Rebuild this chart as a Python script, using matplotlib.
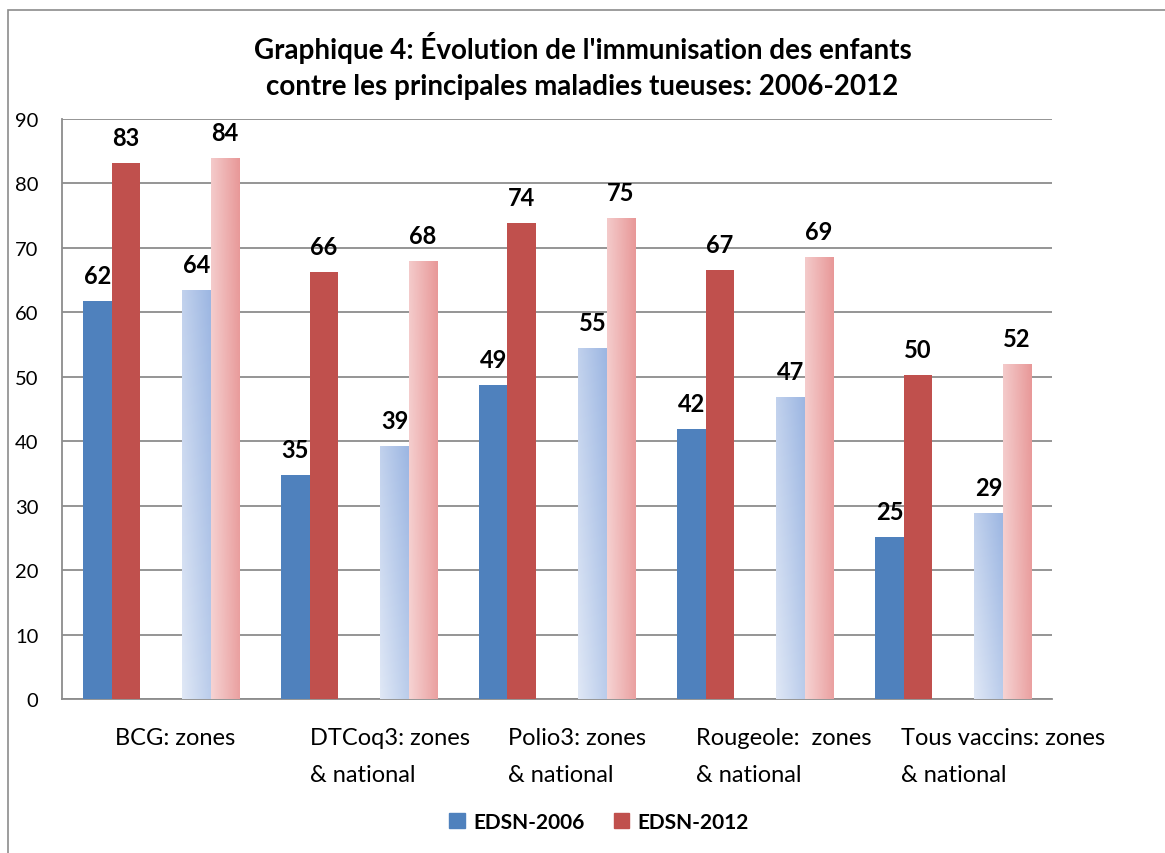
import matplotlib.pyplot as plt
import matplotlib.patches as mpatches
import matplotlib.transforms as mtrans
import numpy as np

plt.rcParams['font.family'] = ['Lato', 'DejaVu Sans']

# ---------------- données ----------------
labels_cat = ['BCG: zones', 'DTCoq3: zones\n& national', 'Polio3: zones\n& national',
              'Rougeole:  zones\n& national', 'Tous vaccins: zones\n& national']
# 10 emplacements : zones puis national pour chaque vaccin
edsn_2006 = [61.7, 63.5, 34.7, 39.3, 48.7, 54.5, 41.9, 46.9, 25.1, 28.9]
edsn_2012 = [83.1, 83.9, 66.2, 68.0, 73.9, 74.6, 66.6, 68.6, 50.3, 52.0]
etiq_2006 = [62, 64, 35, 39, 49, 55, 42, 47, 25, 29]
etiq_2012 = [83, 84, 66, 68, 74, 75, 67, 69, 50, 52]
national = [False, True] * 5

bleu = '#4f81bd'
rouge = '#c0504d'
gris = '#8c8c8c'

fig = plt.figure(figsize=(11.65, 8.54), dpi=100)
ax = fig.add_axes([62/1165, 1-700/854, 990/1165, 580/854])

x = np.arange(len(edsn_2006))
w = 0.283

def degrade(bar, c0, c1, diag):
    # dégradé clair -> foncé (gauche/bas vers droite/haut)
    x0, y0 = bar.get_x(), bar.get_y()
    bw, bh = bar.get_width(), bar.get_height()
    nx, ny = 40, 200
    gx = np.linspace(0, 1, nx)[None, :]
    gy = np.linspace(1, 0, ny)[:, None]
    t = np.clip((1-diag)*gx + diag*gy, 0, 1)
    c0 = np.array(plt.matplotlib.colors.to_rgb(c0))
    c1 = np.array(plt.matplotlib.colors.to_rgb(c1))
    img = c0[None, None, :]*(1-t[..., None]) + c1[None, None, :]*t[..., None]
    im = ax.imshow(img, extent=[x0, x0+bw, y0, y0+bh], aspect='auto', zorder=3,
                   interpolation='bilinear')
    im.set_clip_path(bar)

b1 = ax.bar(x - w/2, edsn_2006, w, color=bleu, zorder=3, label='EDSN-2006')
b2 = ax.bar(x + w/2, edsn_2012, w, color=rouge, zorder=3, label='EDSN-2012')

for i in range(len(x)):
    if national[i]:
        b1[i].set_facecolor('none')
        b1[i].set_edgecolor('none')
        b2[i].set_facecolor('none')
        b2[i].set_edgecolor('none')
        degrade(b1[i], '#e0e8f6', '#9cb6e2', 0.45)
        degrade(b2[i], '#f6d3d3', '#e89898', 0.15)

for i in range(len(x)):
    ax.annotate(str(etiq_2006[i]), (x[i] - w/2, edsn_2006[i]), xytext=(0, 13),
                textcoords='offset points', ha='center', va='baseline',
                fontsize=17, fontweight='bold')
    ax.annotate(str(etiq_2012[i]), (x[i] + w/2, edsn_2012[i]), xytext=(0, 13),
                textcoords='offset points', ha='center', va='baseline',
                fontsize=17, fontweight='bold')

ax.set_xlim(-0.5, 9.5)
ax.set_ylim(0, 90)
ax.set_yticks(range(0, 91, 10))
ax.set_xticks([])
ax.tick_params(axis='y', length=0, pad=17, labelsize=14.5)
ax.yaxis.grid(True, color=gris, linewidth=1.3)
ax.set_axisbelow(True)
for s in ['top', 'right']:
    ax.spines[s].set_visible(False)
for s in ['left', 'bottom']:
    ax.spines[s].set_color(gris)
    ax.spines[s].set_linewidth(1.3)

# étiquettes de catégories
pos_cat = [0.04, 2.0, 4.0, 5.9, 7.97]
tr = mtrans.blended_transform_factory(ax.transData, fig.transFigure)
for p, lab in zip(pos_cat, labels_cat):
    ax.text(p, 1-728/854, lab, transform=tr, ha='left', va='top',
            fontsize=17, linespacing=1.95)

fig.text(0.5, 1-66/854, "Graphique 4: Évolution de l'immunisation des enfants\n"
         "contre les principales maladies tueuses: 2006-2012",
         ha='center', va='center', fontsize=20, fontweight='bold', linespacing=1.45)

h1 = mpatches.Patch(color=bleu)
h2 = mpatches.Patch(color=rouge)
fig.legend([h1, h2], ['EDSN-2006', 'EDSN-2012'], loc='center',
           bbox_to_anchor=(599/1165, 1-823/854), ncol=2, frameon=False,
           handlelength=0.75, handleheight=0.75, handletextpad=0.4,
           columnspacing=1.4, prop={'weight': 'bold', 'size': 15})

# cadre du graphique
fig.patches.append(mpatches.Rectangle((8/1165, -0.1), 1.2, 1.1 - 11/854,
                   transform=fig.transFigure, fill=False, edgecolor=gris, lw=1.2))

plt.savefig('out.png', dpi=100)
